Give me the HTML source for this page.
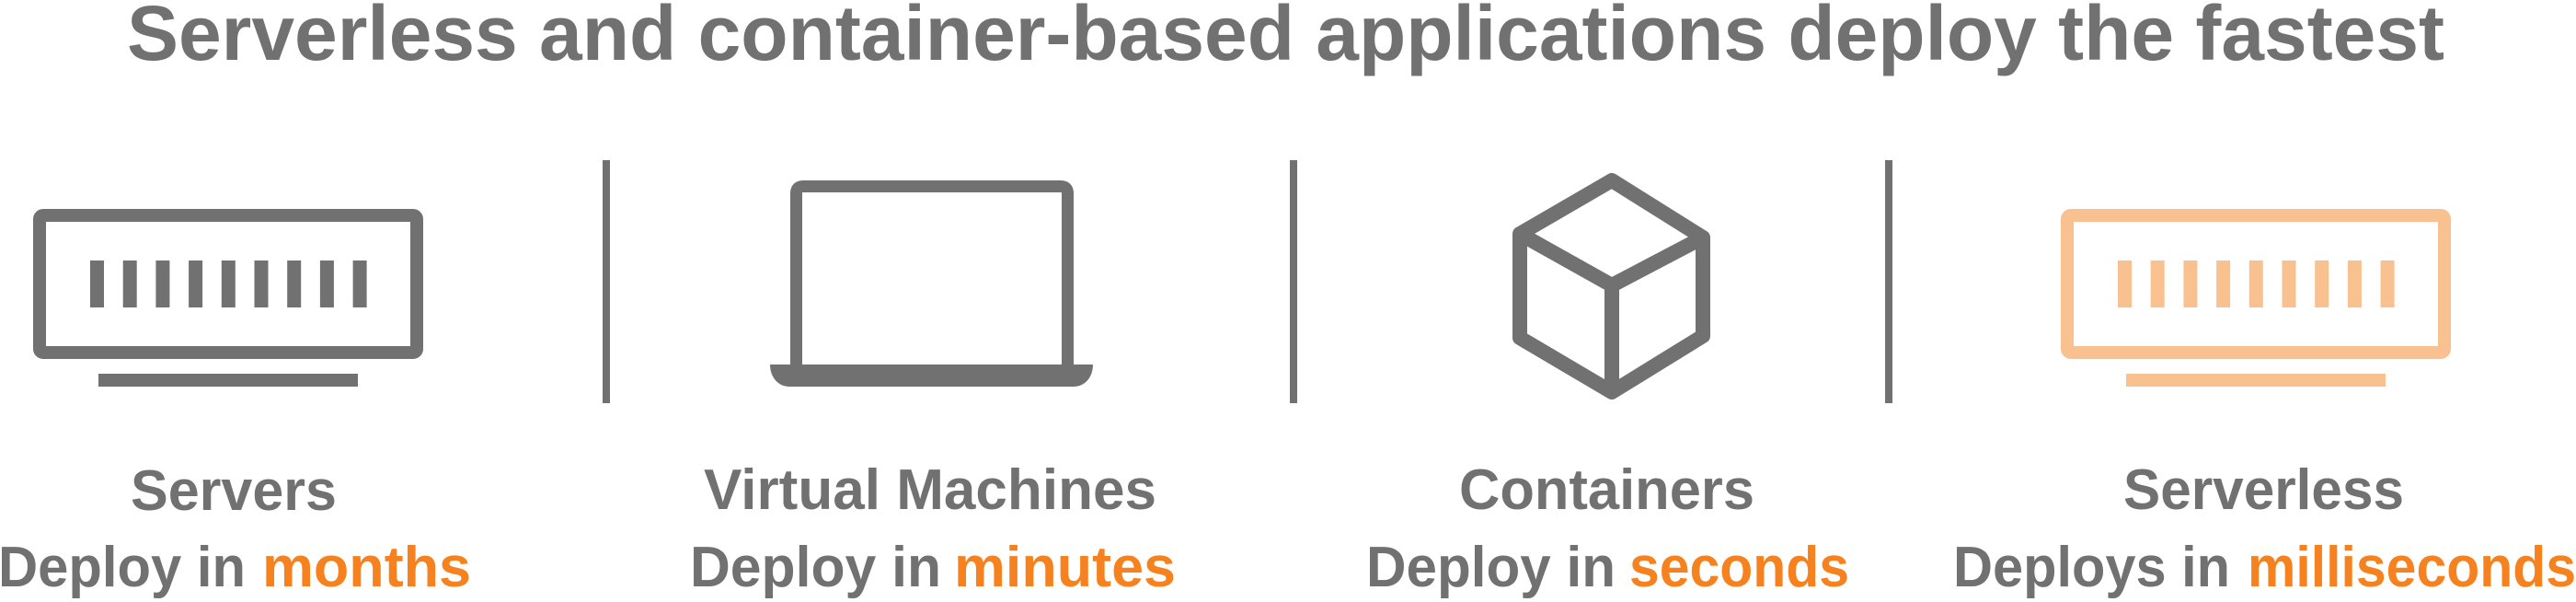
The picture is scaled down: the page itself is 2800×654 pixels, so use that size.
<!DOCTYPE html>
<html>
<head>
<meta charset="utf-8">
<style>
  html, body { margin: 0; padding: 0; background: #ffffff; }
  body { width: 2800px; height: 654px; overflow: hidden; }
  svg { display: block; }
  text { font-family: "Liberation Sans", "DejaVu Sans", sans-serif; font-weight: bold; }
</style>
</head>
<body>
<svg width="2800" height="654" viewBox="0 0 2800 654" xmlns="http://www.w3.org/2000/svg">
  <rect x="0" y="0" width="2800" height="654" fill="#ffffff"/>

  <!-- Title -->
  <text x="138" y="65" font-size="84" fill="#717171" textLength="2519" lengthAdjust="spacingAndGlyphs">Serverless and container-based applications deploy the fastest</text>

  <!-- Dividers -->
  <rect x="655" y="174" width="8" height="264" fill="#717171"/>
  <rect x="1402" y="174" width="8" height="264" fill="#717171"/>
  <rect x="2049" y="174" width="8" height="264" fill="#717171"/>

  <!-- Server icon (gray) -->
  <g fill="#717171">
    <rect x="43" y="234" width="410" height="149" rx="4" ry="4" fill="none" stroke="#717171" stroke-width="14"/>
    <rect x="98" y="283" width="15" height="51"/>
    <rect x="133.7" y="283" width="15" height="51"/>
    <rect x="169.4" y="283" width="15" height="51"/>
    <rect x="205.1" y="283" width="15" height="51"/>
    <rect x="240.8" y="283" width="15" height="51"/>
    <rect x="276.5" y="283" width="15" height="51"/>
    <rect x="312.2" y="283" width="15" height="51"/>
    <rect x="347.9" y="283" width="15" height="51"/>
    <rect x="383.6" y="283" width="15" height="51"/>
    <rect x="107" y="406" width="282" height="14"/>
  </g>

  <!-- Laptop icon -->
  <g>
    <path d="M865.5,400 L865.5,210 Q865.5,202.5 873,202.5 L1153,202.5 Q1160.5,202.5 1160.5,210 L1160.5,400" fill="none" stroke="#717171" stroke-width="13"/>
    <path d="M837,396 L1188,396 C1188,410 1179,420 1167,420 L858,420 C846,420 837,410 837,396 Z" fill="#717171"/>
  </g>

  <!-- Cube icon -->
  <path d="M1752,196 L1851,258 L1851,365 L1752,426 L1652,367 L1652,254 Z M1652,254 L1752,310 L1851,258 M1752,310 L1752,426"
        fill="none" stroke="#717171" stroke-width="16" stroke-linejoin="round" stroke-linecap="round"/>

  <!-- Serverless icon (light orange) -->
  <g fill="#F9C190">
    <rect x="2247" y="234" width="410" height="149" rx="4" ry="4" fill="none" stroke="#F9C190" stroke-width="14"/>
    <rect x="2302" y="283" width="15" height="51"/>
    <rect x="2337.7" y="283" width="15" height="51"/>
    <rect x="2373.4" y="283" width="15" height="51"/>
    <rect x="2409.1" y="283" width="15" height="51"/>
    <rect x="2444.8" y="283" width="15" height="51"/>
    <rect x="2480.5" y="283" width="15" height="51"/>
    <rect x="2516.2" y="283" width="15" height="51"/>
    <rect x="2551.9" y="283" width="15" height="51"/>
    <rect x="2587.6" y="283" width="15" height="51"/>
    <rect x="2311" y="406" width="282" height="14"/>
  </g>

  <!-- Labels: column 1 -->
  <text x="142" y="554" font-size="62" fill="#717171" textLength="224" lengthAdjust="spacingAndGlyphs">Servers</text>
  <text x="-2" y="637" font-size="62" fill="#717171" textLength="269" lengthAdjust="spacingAndGlyphs">Deploy in</text>
  <text x="285" y="637" font-size="62" fill="#F5821F" textLength="227" lengthAdjust="spacingAndGlyphs">months</text>

  <!-- Labels: column 2 -->
  <text x="765" y="553" font-size="62" fill="#717171" textLength="492" lengthAdjust="spacingAndGlyphs">Virtual Machines</text>
  <text x="750" y="637" font-size="62" fill="#717171" textLength="273" lengthAdjust="spacingAndGlyphs">Deploy in</text>
  <text x="1037" y="637" font-size="62" fill="#F5821F" textLength="241" lengthAdjust="spacingAndGlyphs">minutes</text>

  <!-- Labels: column 3 -->
  <text x="1586" y="553" font-size="62" fill="#717171" textLength="321" lengthAdjust="spacingAndGlyphs">Containers</text>
  <text x="1485" y="637" font-size="62" fill="#717171" textLength="271" lengthAdjust="spacingAndGlyphs">Deploy in</text>
  <text x="1771" y="637" font-size="62" fill="#F5821F" textLength="239" lengthAdjust="spacingAndGlyphs">seconds</text>

  <!-- Labels: column 4 -->
  <text x="2308" y="553" font-size="62" fill="#717171" textLength="305" lengthAdjust="spacingAndGlyphs">Serverless</text>
  <text x="2123" y="637" font-size="62" fill="#717171" textLength="301" lengthAdjust="spacingAndGlyphs">Deploys in</text>
  <text x="2443" y="637" font-size="62" fill="#F5821F" textLength="357" lengthAdjust="spacingAndGlyphs">milliseconds</text>
</svg>
</body>
</html>
